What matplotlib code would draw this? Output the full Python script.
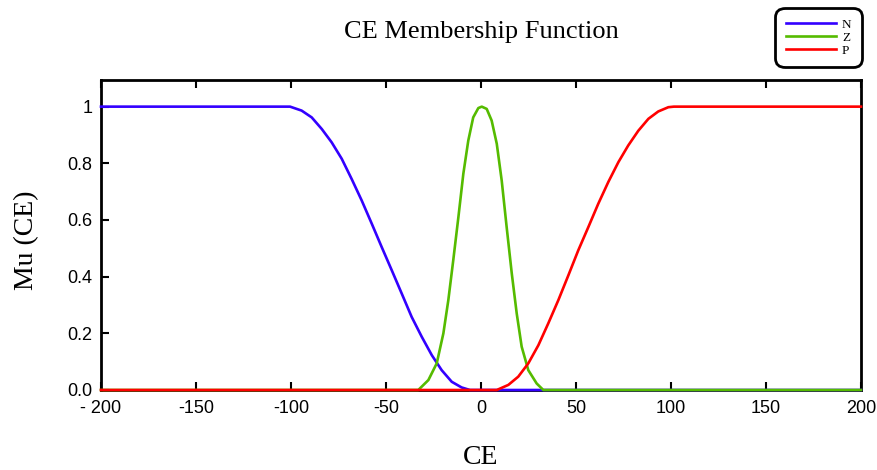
import matplotlib
matplotlib.use("Agg")
import matplotlib.pyplot as plt

# membership curves
n_x = [-200, -100.5, -94.4, -89.1, -83.8, -78.6, -73.3, -68.1, -62.8, -57.5, -52.3,
       -47.0, -41.7, -36.5, -31.2, -25.9, -20.7, -15.4, -10.2, -5.8, 200]
n_y = [1.0, 1.0, 0.986, 0.962, 0.921, 0.874, 0.816, 0.745, 0.669, 0.587, 0.505,
       0.423, 0.340, 0.258, 0.188, 0.123, 0.070, 0.029, 0.009, 0.0, 0.0]

z_x = [-200, -33.0, -27.7, -23.3, -19.8, -17.2, -14.6, -11.9, -9.3, -6.7, -4.1, -1.4, 0.4,
       3.0, 5.6, 8.3, 10.9, 13.5, 16.2, 18.8, 21.4, 24.9, 29.3, 32.8, 200]
z_y = [0.0, 0.0, 0.035, 0.094, 0.200, 0.317, 0.458, 0.610, 0.763, 0.880, 0.962, 0.995, 1.0,
       0.992, 0.951, 0.869, 0.739, 0.575, 0.411, 0.270, 0.153, 0.070, 0.023, 0.0, 0.0]

p_x = [-200, 8.3, 14.4, 19.6, 24.9, 30.2, 35.4, 40.7, 46.0, 51.2, 56.5, 61.7, 67.0,
       72.3, 77.5, 82.8, 88.1, 93.3, 98.6, 101.5, 200]
p_y = [0.0, 0.0, 0.018, 0.047, 0.094, 0.158, 0.235, 0.317, 0.405, 0.493, 0.575, 0.657, 0.734,
       0.804, 0.863, 0.915, 0.957, 0.983, 0.998, 1.0, 1.0]

x_ticks = [-200, -150, -100, -50, 0, 50, 100, 150, 200]
x_labels = ["- 200", "-150", "-100", "-50", "0", "50", "100", "150", "200"]
y_ticks = [0, 0.2, 0.4, 0.6, 0.8, 1]
y_labels = ["0.0", "0.2", "0.4", "0.6", "0.8", "1"]

serif = ["Liberation Serif", "DejaVu Serif"]
sans = ["Liberation Sans", "DejaVu Sans"]

fig = plt.figure(figsize=(8.77, 4.70), dpi=100)
ax = fig.add_axes([101 / 877, 1 - 390 / 470, 760 / 877, 310 / 470])

ax.plot(n_x, n_y, color="#3300ff", lw=1.9, label="N", zorder=3, clip_on=False)
ax.plot(z_x, z_y, color="#55bb00", lw=1.9, label="Z", zorder=4, clip_on=False)
ax.plot(p_x, p_y, color="#ff0000", lw=1.9, label="P", zorder=5, clip_on=False)

ax.set_xlim(-200, 200)
ax.set_ylim(0, 1.094)
ax.set_xticks(x_ticks)
ax.set_xticklabels(x_labels, family=sans, fontsize=13)
ax.set_yticks(y_ticks)
ax.set_yticklabels(y_labels, family=sans, fontsize=13)
ax.tick_params(axis="x", direction="in", length=6, width=1.5, top=True, pad=7)
ax.tick_params(axis="y", direction="in", length=6, width=1.5, pad=6)
for s in ax.spines.values():
    s.set_linewidth(2)

fig.text(481 / 877, 1 - 32 / 470, "CE Membership Function", family=serif,
         fontsize=19, ha="center", va="center")
fig.text(481 / 877, 1 - 458 / 470, "CE", family=serif, fontsize=20,
         ha="center", va="center")
fig.text(27 / 877, 1 - 240 / 470, "Mu (CE)", family=serif, fontsize=20,
         ha="center", va="center", rotation=90)

leg = fig.legend(loc="upper right", bbox_to_anchor=(862 / 877, 1 - 8 / 470),
                 prop={"family": serif, "size": 9.5}, handlelength=3.8,
                 labelspacing=0.05, handletextpad=0.45, borderpad=0.8,
                 borderaxespad=0, fancybox=True, framealpha=1, edgecolor="black")
leg.get_frame().set_linewidth(2)
leg.get_frame().set_boxstyle("round", pad=0, rounding_size=0.7)

fig.savefig("out.png", dpi=100)
